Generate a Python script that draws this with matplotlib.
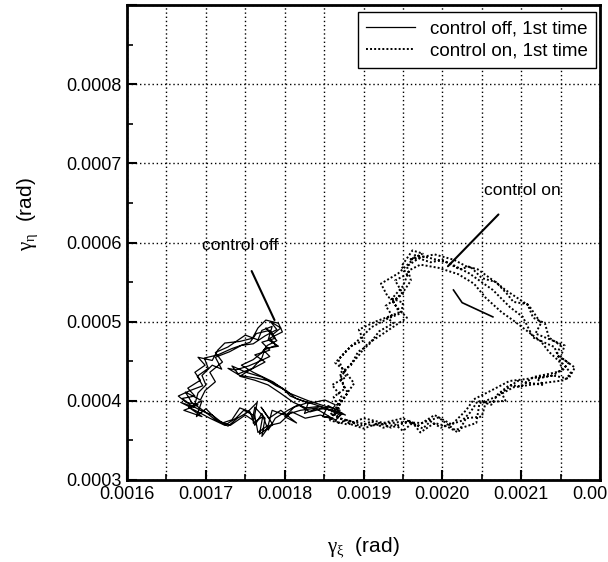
import numpy as np
import matplotlib
matplotlib.use("Agg")
import matplotlib.pyplot as plt
from matplotlib.ticker import MultipleLocator, FuncFormatter

plt.rcParams['font.family'] = ['Liberation Sans', 'DejaVu Sans']
plt.rcParams['mathtext.fontset'] = 'custom'
plt.rcParams['mathtext.rm'] = 'Liberation Sans'
plt.rcParams['mathtext.it'] = 'Liberation Serif'

# trajectories, values in micro-rad
off_x = [1870, 1851, 1832, 1817, 1804, 1788, 1779, 1771, 1762, 1756, 1743, 1733, 1721, 1708, 1693, 1680, 1670,
         1686, 1677, 1693, 1686, 1699, 1690, 1708, 1715, 1724, 1743, 1759, 1766, 1776, 1792, 1797, 1781, 1789,
         1773, 1781, 1766, 1754, 1738, 1728, 1743, 1762, 1781, 1797, 1807, 1822, 1839, 1858, 1873,
         1865, 1845, 1826, 1809, 1794, 1781, 1771, 1775, 1762, 1759, 1750, 1731, 1712, 1699, 1682, 1674, 1693,
         1699, 1712, 1705, 1721, 1712, 1728, 1750, 1766, 1771, 1784, 1779, 1792, 1775, 1771, 1759, 1741, 1733,
         1751, 1771, 1789, 1802, 1814, 1832, 1851, 1864,
         1860, 1842, 1820, 1800, 1784, 1779, 1766, 1762, 1748, 1738, 1724, 1705, 1690, 1678, 1695, 1672, 1690,
         1675, 1665, 1680, 1696, 1689, 1703, 1698, 1715, 1733, 1756, 1764, 1781, 1788, 1771, 1781, 1762, 1775,
         1756, 1743, 1762, 1779, 1794, 1811, 1827, 1845, 1865, 1877,
         1870, 1855, 1848, 1860, 1840, 1825, 1830, 1812, 1800, 1815, 1795, 1780, 1770, 1785, 1768, 1772, 1760,
         1765, 1752, 1740, 1728, 1715, 1700, 1688, 1695, 1680, 1668, 1685, 1690, 1700, 1695, 1708, 1720, 1712,
         1730, 1745, 1760, 1775, 1790, 1782, 1795, 1785, 1776, 1790, 1778, 1770, 1760, 1745, 1760, 1785, 1805,
         1830, 1855, 1870]
off_y = [382, 391, 386, 395, 388, 378, 363, 384, 369, 386, 391, 376, 372, 382, 388, 395, 403,
         406, 416, 426, 436, 445, 455, 451, 464, 473, 475, 479, 492, 502, 498, 487, 479, 470,
         464, 456, 449, 444, 439, 441, 432, 429, 425, 416, 406, 400, 395, 388, 384,
         376, 382, 378, 386, 372, 369, 355, 378, 392, 376, 382, 369, 376, 386, 398, 411, 401,
         413, 424, 436, 449, 461, 468, 483, 477, 489, 494, 477, 469, 466, 454, 441, 434, 444,
         436, 430, 419, 413, 403, 397, 401, 395,
         388, 391, 388, 382, 388, 369, 360, 381, 388, 378, 369, 378, 386, 392, 380, 388, 395,
         398, 406, 413, 419, 431, 441, 454, 458, 466, 474, 485, 489, 479, 474, 464, 458, 449,
         439, 431, 426, 420, 410, 398, 391, 393, 386, 382,
         386, 394, 380, 378, 390, 384, 398, 392, 380, 372, 388, 378, 392, 370, 358, 380, 372,
         398, 385, 378, 368, 375, 390, 380, 400, 392, 398, 392, 410, 420, 432, 445, 440, 455,
         462, 470, 472, 482, 490, 500, 492, 484, 492, 476, 470, 460, 452, 445, 436, 424, 410,
         400, 392, 388]

on_x = [1866, 1870, 1888, 1875, 1864, 1879, 1897, 1910, 1931, 1948, 1950, 1931, 1922, 1944, 1959, 1965, 1982,
        2009, 2034, 2064, 2086, 2102, 2115, 2142, 2149, 2163, 2155, 2124, 2090, 2068, 2047, 2043, 2016, 1995,
        1974, 1944, 1913, 1888, 1866,
        1862, 1872, 1860, 1878, 1868, 1885, 1900, 1894, 1915, 1936, 1928, 1950, 1940, 1955, 1948, 1962, 1975,
        1958, 1990, 2015, 2030, 2045, 2070, 2080, 2098, 2110, 2125, 2118, 2140, 2155, 2150, 2168, 2160, 2140,
        2120, 2128, 2095, 2075, 2080, 2055, 2050, 2030, 2020, 2005, 1990, 1972, 1960, 1935, 1920, 1900, 1885,
        1870, 1862,
        1858, 1866, 1880, 1870, 1878, 1892, 1905, 1925, 1940, 1955, 1945, 1935, 1950, 1958, 1972, 1995, 2020,
        2040, 2055, 2075, 2092, 2105, 2125, 2135, 2148, 2152, 2140, 2110, 2085, 2060, 2040, 2030, 2012, 1990,
        1968, 1950, 1925, 1900, 1880, 1858,
        1855, 1868, 1862, 1876, 1870, 1884, 1893, 1906, 1920, 1938, 1930, 1945, 1938, 1952, 1960, 1955, 1970,
        1985, 2000, 2022, 2035, 2050, 2068, 2082, 2090, 2108, 2115, 2130, 2135, 2150, 2145, 2160, 2152, 2135,
        2115, 2100, 2085, 2070, 2062, 2045, 2035, 2025, 2010, 1998, 1985, 1975, 1962, 1950, 1940, 1925, 1910,
        1895, 1880, 1868, 1858]
on_y = [379, 397, 422, 439, 448, 464, 480, 493, 504, 511, 524, 531, 548, 561, 575, 584, 581,
        574, 561, 540, 518, 506, 480, 468, 451, 435, 426, 422, 417, 405, 397, 372, 363, 379,
        372, 373, 369, 373, 379,
        385, 405, 420, 430, 452, 470, 476, 490, 500, 508, 520, 535, 552, 560, 570, 590, 586,
        578, 585, 578, 570, 566, 548, 540, 528, 520, 498, 485, 476, 470, 455, 442, 428, 432,
        428, 420, 425, 410, 400, 398, 380, 378, 360, 368, 372, 360, 375, 366, 372, 365, 370,
        378, 385,
        375, 390, 410, 428, 440, 455, 472, 485, 495, 505, 515, 528, 545, 565, 572, 568, 560,
        548, 530, 512, 500, 490, 475, 462, 450, 440, 432, 428, 425, 412, 402, 388, 370, 382,
        368, 378, 372, 378, 370, 375,
        380, 392, 405, 415, 435, 445, 462, 470, 488, 498, 505, 512, 525, 540, 552, 570, 580,
        575, 578, 566, 570, 555, 550, 535, 525, 522, 505, 498, 480, 470, 458, 448, 438, 434,
        430, 418, 420, 408, 395, 400, 385, 375, 370, 366, 374, 365, 372, 362, 370, 366, 374,
        368, 376, 372, 380]

seg_x = [2014, 2025, 2064]
seg_y = [540, 524, 506]

off_x = np.array(off_x) * 1e-6
off_y = np.array(off_y) * 1e-6
on_x = np.array(on_x) * 1e-6
on_y = np.array(on_y) * 1e-6
seg_x = np.array(seg_x) * 1e-6
seg_y = np.array(seg_y) * 1e-6

fig = plt.figure(figsize=(6.08, 5.62), dpi=100)
ax = fig.add_axes([0.209, 0.146, 0.778, 0.845])

ax.plot(off_x, off_y, color='black', lw=0.9, label='control off, 1st time')
ax.plot(on_x, on_y, color='black', lw=1.4, linestyle=(0, (1, 1.1)), label='control on, 1st time')
ax.plot(seg_x, seg_y, color='black', lw=1.2)

# labels pointing at the curves
ax.annotate('control off', xy=(0.001787, 0.000502), xytext=(0.001743, 0.000596),
            ha='center', va='center', fontsize=12.5,
            arrowprops=dict(arrowstyle='-', color='black', lw=1.5, shrinkA=12, shrinkB=0))
ax.annotate('control on', xy=(0.002007, 0.000570), xytext=(0.002101, 0.000666),
            ha='center', va='center', fontsize=12.5,
            arrowprops=dict(arrowstyle='-', color='black', lw=1.5, shrinkA=14, shrinkB=0))

ax.set_xlim(0.0016, 0.0022)
ax.set_ylim(0.0003, 0.0009)
ax.xaxis.set_major_locator(MultipleLocator(0.0001))
ax.xaxis.set_minor_locator(MultipleLocator(0.00005))
ax.yaxis.set_major_locator(MultipleLocator(0.0001))
ax.yaxis.set_minor_locator(MultipleLocator(0.00005))
ax.xaxis.set_major_formatter(FuncFormatter(lambda v, p: '%.4f' % v))
ax.yaxis.set_major_formatter(FuncFormatter(lambda v, p: '' if v > 0.00085 else '%.4f' % v))

ax.tick_params(which='both', direction='in', top=False, right=False, labelsize=13)
ax.tick_params(which='major', length=7, width=1.5, pad=4)
ax.tick_params(which='minor', length=4, width=1.2)
for s in ax.spines.values():
    s.set_linewidth(2)

ax.grid(True, which='both', axis='x', linestyle=(0, (1, 2)), color='black', lw=1)
ax.grid(True, which='major', axis='y', linestyle=(0, (1, 2)), color='black', lw=1)

ax.set_xlabel(r'$\gamma_{\xi}$  (rad)', fontsize=15, labelpad=24)
ax.set_ylabel(r'$\gamma_{\eta}$  (rad)', fontsize=15)
ax.yaxis.set_label_coords(-0.185, 0.56)

leg = ax.legend(loc='upper right', bbox_to_anchor=(0.992, 0.985), fontsize=13.5, frameon=True,
                fancybox=False, edgecolor='black', framealpha=1, handlelength=2.6,
                handletextpad=0.8, labelspacing=0.25, borderpad=0.45, borderaxespad=0)
leg.get_frame().set_linewidth(1)

fig.savefig('out.png', dpi=100)
